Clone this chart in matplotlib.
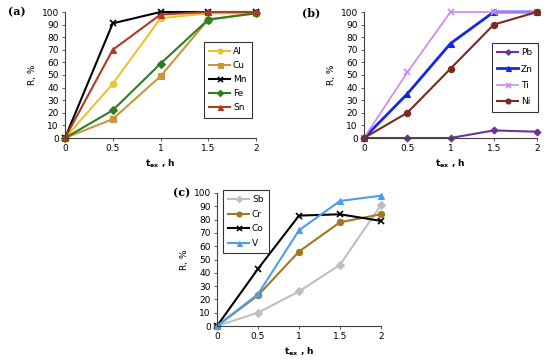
import numpy as np
import matplotlib.pyplot as plt

t = [0, 0.5, 1, 1.5, 2]

# panel (a)
al = [0, 43, 95, 99, 99]
cu = [0, 15, 49, 94, 99]
mn = [0, 91, 100, 100, 100]
fe = [0, 22, 59, 94, 99]
sn = [0, 70, 98, 100, 100]

# panel (b)
pb = [0, 0, 0, 6, 5]
zn = [0, 35, 75, 100, 100]
ti = [0, 52, 100, 100, 100]
ni = [0, 20, 55, 90, 100]

# panel (c)
sb = [0, 10, 26, 46, 91]
cr = [0, 23, 56, 78, 84]
co = [0, 43, 83, 84, 79]
v = [0, 24, 72, 94, 98]

W, H = 550, 360
fig = plt.figure(figsize=(W / 100, H / 100), dpi=100)
plt.rcParams['font.family'] = 'DejaVu Sans'


def make_ax(x0, x1, ytop, ybot):
    ax = fig.add_axes([x0 / W, 1 - ybot / H, (x1 - x0) / W, (ybot - ytop) / H])
    ax.set_xlim(0, 2)
    ax.set_ylim(0, 100)
    ax.set_xticks([0, 0.5, 1, 1.5, 2])
    ax.set_xticklabels(['0', '0.5', '1', '1.5', '2'])
    ax.set_yticks(np.arange(0, 101, 10))
    ax.spines['top'].set_visible(False)
    ax.spines['right'].set_visible(False)
    for s in ('left', 'bottom'):
        ax.spines[s].set_linewidth(0.8)
        ax.spines[s].set_color('#404040')
    ax.tick_params(labelsize=6.5, length=2.5, width=0.6, color='#404040', pad=2)
    ax.set_ylabel('R, %', fontsize=6.5, labelpad=3)
    ax.set_xlabel(r'$\mathbf{t_{ex}}$ , h', fontsize=6.5, fontweight='bold', labelpad=3)
    return ax


def series(ax, y, color, marker, label, ms=4.5, lw=1.5):
    ax.plot(t, y, color=color, marker=marker, markersize=ms, linewidth=lw,
            label=label, clip_on=False, markeredgewidth=1.2 if marker == 'x' else 0.8)


def legend(ax, x0, ytop, spacing):
    leg = ax.legend(loc='upper left', bbox_to_anchor=(x0 / W, 1 - ytop / H),
                    bbox_transform=fig.transFigure, prop={'size': 6.5}, frameon=True,
                    fancybox=False, edgecolor='black', handlelength=2.3,
                    borderpad=0.6, labelspacing=spacing,
                    handletextpad=0.3, borderaxespad=0, markerscale=0.8)
    leg.get_frame().set_linewidth(0.8)


# (a)
ax = make_ax(65, 256, 12, 138)
series(ax, al, '#E6C530', 'o', 'Al')
series(ax, cu, '#C8963C', 's', 'Cu')
series(ax, mn, 'black', 'x', 'Mn')
series(ax, fe, '#2E7D1E', 'D', 'Fe', ms=4)
series(ax, sn, '#B03A24', '^', 'Sn')
legend(ax, 204, 42, 0.55)
fig.text(8 / W, 1 - 12 / H, '(a)', fontsize=8, fontweight='bold', family='DejaVu Serif', va='center')

# (b)
ax = make_ax(364, 537, 12, 138)
series(ax, pb, '#7030A0', 'D', 'Pb', ms=3.5)
series(ax, zn, '#1428E0', '^', 'Zn', lw=2)
series(ax, ti, '#CC88F0', 'x', 'Ti', lw=1.2)
series(ax, ni, '#7B2A1E', 'o', 'Ni')
legend(ax, 492, 43, 0.8)
fig.text(302 / W, 1 - 13 / H, '(b)', fontsize=8, fontweight='bold', family='DejaVu Serif', va='center')

# (c)
ax = make_ax(217, 381, 193, 326)
series(ax, sb, '#BFBFBF', 'D', 'Sb', ms=4)
series(ax, cr, '#A07820', 'o', 'Cr')
series(ax, co, 'black', 'x', 'Co')
series(ax, v, '#4A9FF0', '^', 'V')
legend(ax, 223, 190, 0.6)
fig.text(173 / W, 1 - 193 / H, '(c)', fontsize=8, fontweight='bold', family='DejaVu Serif', va='center')

fig.savefig('out.png', dpi=100)
